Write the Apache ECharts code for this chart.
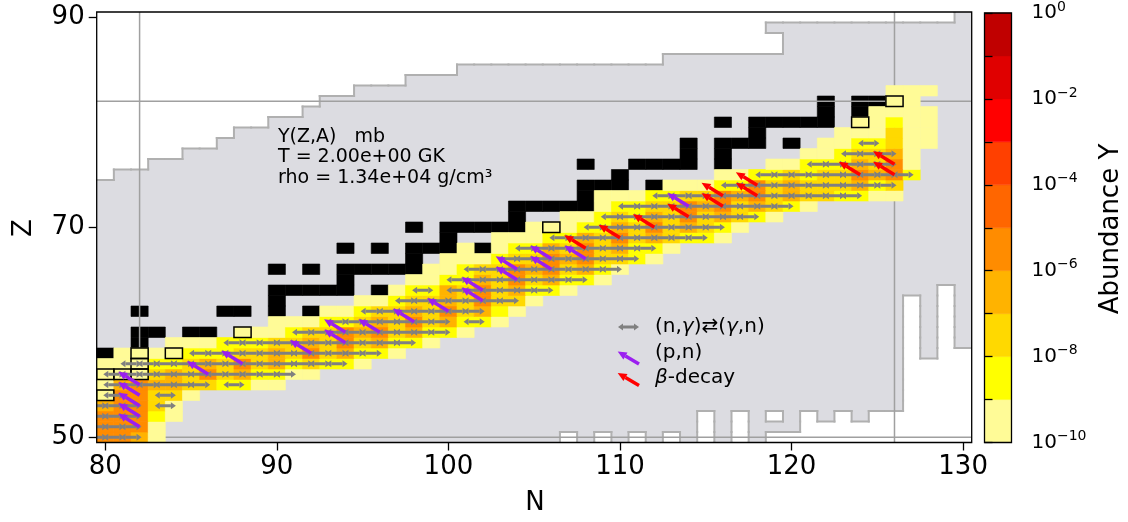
<!DOCTYPE html>
<html>
<head>
<meta charset="utf-8">
<script src="https://cdn.jsdelivr.net/npm/echarts@6.0.0/dist/echarts.min.js"></script>
<style>
html,body{margin:0;padding:0;background:#ffffff;}
#chart{width:1128px;height:522px;}
</style>
</head>
<body>
<div id="chart"></div>
<script>
// ---------------- data ----------------
const nTicks = [80, 90, 100, 110, 120, 130];
const zTicks = [50, 70, 90];
const magicN = [82, 126];
const magicZ = [50, 82];
const cbExponents = [-10, -9, -8, -7, -6, -5, -4, -3, -2, -1];
const cbColors = ['#fffb97', '#ffff00', '#ffd900', '#ffb300', '#ff8c00', '#ff6600', '#ff4000', '#ff0000', '#e00000', '#c00000'];
const cbLabelExps = [-10, -8, -6, -4, -2, 0];

// network nuclei: [N, Zmin, Zmax] per neutron number
const netColumns = [
  [78,45,74],[79,45,74],[80,45,74],[81,45,75],[82,45,75],[83,45,76],[84,45,76],[85,45,77],[86,45,77],
  [87,45,78],[88,45,79],[89,45,79],[90,45,80],[91,45,80],[92,45,81],[93,45,82],[94,45,82],[95,45,83],
  [96,45,83],[97,45,83],[98,45,84],[99,45,84],[100,45,84],[101,45,85],[102,45,85],[103,45,85],[104,45,85],
  [105,45,85],[106,45,85],[107,51,85],[108,45,85],[109,51,85],[110,45,85],[111,51,85],[112,45,85],
  [113,51,86],[114,45,86],[115,53,86],[116,45,86],[117,53,86],[118,45,86],[119,51,86],[120,51,89],
  [121,53,89],[122,52,89],[123,53,89],[124,52,89],[125,53,89],[126,53,89],[127,64,89],[128,58,89],
  [129,65,89],[130,59,95],[131,59,95],[132,59,95]
];
const netExtraCells = [[119, 89]];
const netHoleCells = [[119, 52]];

// stable nuclei [N, Z]
const stableNuclei = [
  [80,54],[80,56],[81,56],[82,56],[82,57],[80,58],[82,58],[84,58],[82,59],
  [82,60],[83,60],[85,60],[86,60],[88,60],[82,62],[87,62],[88,62],[90,62],[92,62],[90,63],
  [90,64],[91,64],[92,64],[93,64],[94,64],[96,64],[94,65],
  [90,66],[92,66],[94,66],[95,66],[96,66],[97,66],[98,66],[98,67],
  [94,68],[96,68],[98,68],[99,68],[100,68],[102,68],[100,69],
  [98,70],[100,70],[101,70],[102,70],[103,70],[104,70],[106,70],[104,71],
  [104,72],[105,72],[106,72],[107,72],[108,72],[108,73],
  [108,74],[109,74],[110,74],[112,74],[110,75],
  [108,76],[111,76],[112,76],[113,76],[114,76],[116,76],[114,77],[116,77],
  [114,78],[116,78],[117,78],[118,78],[120,78],[118,79],
  [116,80],[118,80],[119,80],[120,80],[121,80],[122,80],[124,80],[122,81],[124,81],
  [122,82],[124,82],[125,82],[126,82]
];

// abundance rows: [Z, first N, log10(Y) per successive N]
const abundanceRows = [
  [50, 80, [-5.5,-5.5,-6.5,-9.5]],
  [51, 80, [-5.5,-5.5,-5.5,-9.5]],
  [52, 80, [-5.5,-5.5,-5.5,-8.5,-9.5]],
  [53, 80, [-6.5,-5.5,-5.5,-7.5,-9.5]],
  [54, 80, [-9.5,-5.5,-5.5,-7.5,-7.5,-9.5]],
  [55, 80, [-9.5,-6.5,-5.5,-6.5,-6.5,-7.5,-7.5,-8.5,-8.5,-9.5,-9.5]],
  [56, 80, [-9.5,-9.5,-9.5,-7.5,-6.5,-7.5,-5.5,-7.5,-6.5,-8.5,-8.5,-9.5,-9.5]],
  [57, 80, [-9.5,-9.5,-9.5,-8.5,-8.5,-7.5,-6.5,-7.5,-5.5,-7.5,-6.5,-8.5,-7.5,-8.5,-8.5,-9.5]],
  [58, 81, [-9.5,-9.5,-9.5,-9.5,-8.5,-8.5,-8.5,-7.5,-7.5,-6.5,-7.5,-5.5,-7.5,-6.5,-8.5,-8.5,-9.5]],
  [59, 84, [-9.5,-9.5,-9.5,-8.5,-8.5,-8.5,-7.5,-7.5,-6.5,-7.5,-5.5,-7.5,-6.5,-8.5,-8.5,-9.5]],
  [60, 88, [-9.5,-9.5,-9.5,-8.5,-7.5,-7.5,-5.5,-6.5,-5.5,-7.5,-6.5,-8.5,-8.5,-9.5]],
  [61, 90, [-9.5,-9.5,-9.5,-8.5,-8.5,-7.5,-6.5,-7.5,-5.5,-7.5,-6.5,-8.5,-8.5,-9.5]],
  [62, 93, [-9.5,-9.5,-8.5,-7.5,-7.5,-6.5,-7.5,-5.5,-7.5,-6.5,-8.5,-9.5]],
  [63, 95, [-9.5,-9.5,-8.5,-7.5,-7.5,-6.5,-7.5,-5.5,-7.5,-7.5,-9.5]],
  [64, 97, [-9.5,-8.5,-8.5,-6.5,-7.5,-5.5,-7.5,-6.5,-8.5,-8.5,-9.5]],
  [65, 98, [-9.5,-9.5,-8.5,-8.5,-6.5,-7.5,-5.5,-7.5,-6.5,-8.5,-8.5,-9.5]],
  [66, 99, [-9.5,-9.5,-8.5,-7.5,-7.5,-5.5,-6.5,-5.5,-7.5,-6.5,-8.5,-9.5]],
  [67, 100, [-9.5,-9.5,-9.5,-8.5,-7.5,-7.5,-5.5,-6.5,-5.5,-7.5,-7.5,-8.5,-9.5]],
  [68, 101, [-9.5]],
  [68, 103, [-9.5,-8.5,-8.5,-6.5,-7.5,-5.5,-7.5,-6.5,-8.5,-8.5,-9.5]],
  [69, 103, [-9.5,-9.5,-9.5,-8.5,-8.5,-6.5,-7.5,-5.5,-7.5,-6.5,-7.5,-8.5,-8.5,-9.5]],
  [70, 105, [-9.5,-9.5,-9.5,-8.5,-8.5,-6.5,-7.5,-5.5,-7.5,-6.5,-7.5,-8.5,-9.5]],
  [71, 107, [-9.5,-9.5,-8.5,-7.5,-8.5,-6.5,-7.5,-5.5,-7.5,-6.5,-7.5,-8.5,-9.5]],
  [72, 109, [-9.5,-8.5,-8.5,-7.5,-7.5,-5.5,-6.5,-5.5,-7.5,-6.5,-7.5,-8.5,-9.5]],
  [73, 109, [-9.5,-9.5,-9.5,-8.5,-8.5,-7.5,-7.5,-5.5,-6.5,-5.5,-7.5,-6.5,-7.5,-7.5,-8.5,-8.5,-9.5,-9.5]],
  [74, 113, [-9.5,-9.5,-9.5,-8.5,-8.5,-5.5,-7.5,-6.5,-7.5,-7.5,-7.5,-6.5,-8.5,-7.5]],
  [75, 116, [-9.5,-9.5,-8.5,-8.5,-7.5,-8.5,-7.5,-7.5,-5.5,-6.5,-5.5,-8.5]],
  [76, 119, [-9.5,-9.5,-8.5,-8.5,-8.5,-6.5,-7.5,-5.5,-9.5]],
  [77, 121, [-9.5,-9.5,-8.5,-7.5,-7.5,-6.5,-9.5]],
  [78, 122, [-9.5,-9.5,-8.5,-8.5,-7.5,-9.5,-9.5]],
  [79, 123, [-9.5,-9.5,-9.5,-7.5,-9.5,-9.5]],
  [80, 124, [-9.5,-9.5,-8.5,-9.5,-9.5]],
  [81, 125, [-9.5,-9.5,-9.5,-9.5]],
  [82, 126, [-9.5,-9.5]],
  [83, 126, [-9.5,-9.5,-9.5]]
];

// (n,g)<->(g,n) flow runs: [Z, N from, N to]
const ngRuns = [
  [50,79,82],[51,79,82],[52,79,82],[53,79,82],[53,83,84],[54,80,81],[54,83,84],[55,80,86],[55,87,88],
  [56,80,91],[57,81,94],[58,85,96],[59,87,98],[60,91,100],[61,93,100],[61,101,102],[62,95,102],
  [63,97,104],[64,98,99],[64,100,106],[65,100,108],[66,101,110],[67,103,111],[68,104,112],
  [69,106,115],[70,108,116],[71,109,118],[72,110,120],[73,112,124],[74,116,126],[75,118,127],
  [76,121,126],[77,123,126],[78,124,125]
];
// (p,n) flows, start nucleus [N, Z]
const pnArrows = [
  [82,51],[82,52],[82,53],[82,54],[82,55],[86,56],[88,57],[92,58],[94,59],[94,60],[96,60],[98,61],
  [100,62],[102,63],[102,64],[104,65],[104,66],[106,66],[106,67],[108,67],[114,72]
];
// beta-decay flows, start nucleus [N, Z]
const betaArrows = [
  [108,68],[110,69],[112,70],[114,71],[116,72],[116,73],[118,73],[118,74],[124,75],[126,75],[126,76]
];

const infoLines = ['Y(Z,A)   mb', 'T = 2.00e+00 GK', 'rho = 1.34e+04 g/cm\u00b3'];

// ---------------- helpers ----------------
const FONT = 'DejaVu Sans';
const NET_FILL = '#dcdce1';
const NET_EDGE = '#b0b0b0';
const MAGIC = '#a0a0a0';
const NG_COLOR = '#808080';
const PN_COLOR = '#9b1ff0';
const BETA_COLOR = '#ff0000';

function levelColor(ly) {
  let i = Math.floor(ly) + 10;
  if (i < 0) i = 0; if (i > 9) i = 9;
  return cbColors[i];
}
function cellShape(api, n, z) {
  const p0 = api.coord([n - 0.5, z + 0.5]);
  const p1 = api.coord([n + 0.5, z - 0.5]);
  return {x: p0[0], y: p0[1], width: p1[0] - p0[0], height: p1[1] - p0[1]};
}
function tri(tip, base, ux, uy, hw) {
  const nx = -uy, ny = ux;
  return {type: 'polygon', shape: {points: [tip, [base[0] + nx * hw / 2, base[1] + ny * hw / 2], [base[0] - nx * hw / 2, base[1] - ny * hw / 2]]}};
}
function arrowEls(x0, y0, x1, y1, color, lw, headL, headW, over, both, zz) {
  const dx = x1 - x0, dy = y1 - y0, L = Math.hypot(dx, dy), ux = dx / L, uy = dy / L;
  const tip = [x1 + ux * over, y1 + uy * over];
  const base = [tip[0] - ux * headL, tip[1] - uy * headL];
  let start = [x0, y0];
  const els = [];
  if (both) {
    const tip0 = [x0 - ux * over, y0 - uy * over];
    const base0 = [tip0[0] + ux * headL, tip0[1] + uy * headL];
    const t0 = tri(tip0, base0, -ux, -uy, headW); t0.style = {fill: color}; els.push(t0);
    start = base0;
  }
  els.push({type: 'line', shape: {x1: start[0], y1: start[1], x2: base[0], y2: base[1]}, style: {stroke: color, lineWidth: lw}});
  const t1 = tri(tip, base, ux, uy, headW); t1.style = {fill: color}; els.push(t1);
  if (zz !== undefined) els.forEach(e => { e.z = zz; });
  return els;
}
function isInsideNet(n, z) {
  if (netHoleCells.some(c => c[0] === n && c[1] === z)) return false;
  if (netExtraCells.some(c => c[0] === n && c[1] === z)) return true;
  const col = netColumns.find(c => c[0] === n);
  if (!col) return true;
  return z >= col[1] && z <= col[2];
}

// derived data
const coloredCells = [];
abundanceRows.forEach(([z, n0, vals]) => vals.forEach((v, i) => coloredCells.push([n0 + i, z, v])));
const coloredKey = new Set(coloredCells.map(c => c[0] + ',' + c[1]));
const blackCells = stableNuclei.filter(s => !coloredKey.has(s[0] + ',' + s[1]));
const outlinedCells = stableNuclei.filter(s => coloredKey.has(s[0] + ',' + s[1]));
const magicLines = magicN.map(n => [0, n]).concat(magicZ.map(z => [1, z]));

const chart = echarts.init(document.getElementById('chart'), null, {renderer: 'canvas'});

const legendEls = []
  .concat(arrowEls(620, 327, 637, 327, NG_COLOR, 3, 5, 7, 2, true, 30))
  .concat(arrowEls(639, 364, 622, 354, PN_COLOR, 3.5, 9, 8, 5, false, 30))
  .concat(arrowEls(639, 385.5, 622, 375.5, BETA_COLOR, 3.5, 9, 8, 5, false, 30));

const option = {
  animation: false,
  backgroundColor: '#ffffff',
  grid: [
    {left: 96.7, top: 12, width: 875, height: 430.5, show: false},
    {left: 984.5, top: 12, width: 27, height: 430.5, show: false}
  ],
  xAxis: [
    {gridIndex: 0, type: 'value', min: 79.5, max: 130.5, z: 10,
     axisLine: {show: false}, splitLine: {show: false},
     axisTick: {show: true, customValues: nTicks, length: 8, lineStyle: {color: '#000', width: 1.3}},
     axisLabel: {customValues: nTicks, fontSize: 26, color: '#000', fontFamily: FONT, margin: 12}},
    {gridIndex: 1, type: 'value', min: 0, max: 1, show: false}
  ],
  yAxis: [
    {gridIndex: 0, type: 'value', min: 49.5, max: 90.5, z: 10,
     axisLine: {show: false}, splitLine: {show: false},
     axisTick: {show: true, customValues: zTicks, length: 8, lineStyle: {color: '#000', width: 1.3}},
     axisLabel: {customValues: zTicks, fontSize: 26, color: '#000', fontFamily: FONT, margin: 12}},
    {gridIndex: 1, type: 'value', min: -10, max: 0, interval: 1, position: 'right', z: 10,
     axisLine: {show: false}, splitLine: {show: false},
     axisTick: {show: true, length: 8, lineStyle: {color: '#000', width: 1.3}},
     axisLabel: {customValues: cbLabelExps, margin: 20, color: '#000',
       formatter: v => '{b|10}{s|' + (v === 0 ? '0' : '\u2212' + (-v)) + '}',
       rich: {b: {fontSize: 20, fontFamily: FONT, color: '#000', lineHeight: 26},
              s: {fontSize: 14, fontFamily: FONT, color: '#000', verticalAlign: 'top', lineHeight: 14}}}}
  ],
  series: [
    { // network region
      type: 'custom', xAxisIndex: 0, yAxisIndex: 0, clip: true, z: 1, silent: true,
      data: [[79.5, 49.5]],
      renderItem: (params, api) => {
        const children = [];
        const top = [], bottom = [];
        netColumns.forEach(([n, zmin, zmax]) => {
          top.push(api.coord([n - 0.5, zmax + 0.5]), api.coord([n + 0.5, zmax + 0.5]));
          bottom.push(api.coord([n - 0.5, zmin - 0.5]), api.coord([n + 0.5, zmin - 0.5]));
        });
        children.push({type: 'polygon', shape: {points: top.concat(bottom.reverse())}, style: {fill: NET_FILL}});
        netExtraCells.forEach(([n, z]) => children.push({type: 'rect', shape: cellShape(api, n, z), style: {fill: NET_FILL, stroke: NET_FILL, lineWidth: 0.8}}));
        netHoleCells.forEach(([n, z]) => children.push({type: 'rect', shape: cellShape(api, n, z), style: {fill: '#ffffff'}}));
        const seg = (a, b) => {
          const p = api.coord(a), q = api.coord(b);
          children.push({type: 'line', shape: {x1: p[0], y1: p[1], x2: q[0], y2: q[1]}, style: {stroke: NET_EDGE, lineWidth: 2, lineCap: 'square'}});
        };
        for (let n = 78; n <= 132; n++) {
          for (let z = 44; z <= 96; z++) {
            if (!isInsideNet(n, z)) continue;
            if (!isInsideNet(n, z + 1)) seg([n - 0.5, z + 0.5], [n + 0.5, z + 0.5]);
            if (!isInsideNet(n, z - 1)) seg([n - 0.5, z - 0.5], [n + 0.5, z - 0.5]);
            if (!isInsideNet(n - 1, z)) seg([n - 0.5, z - 0.5], [n - 0.5, z + 0.5]);
            if (!isInsideNet(n + 1, z)) seg([n + 0.5, z - 0.5], [n + 0.5, z + 0.5]);
          }
        }
        return {type: 'group', children};
      }
    },
    { // stable nuclei without abundance
      type: 'custom', xAxisIndex: 0, yAxisIndex: 0, clip: true, z: 2, silent: true,
      data: blackCells,
      renderItem: (params, api) => ({type: 'rect', shape: cellShape(api, api.value(0), api.value(1)),
        style: {fill: '#000', stroke: '#000', lineWidth: 0.6}})
    },
    { // magic numbers
      type: 'custom', xAxisIndex: 0, yAxisIndex: 0, clip: true, z: 3, silent: true,
      data: magicLines,
      renderItem: (params, api) => {
        const kind = api.value(0), v = api.value(1);
        const a = kind === 0 ? api.coord([v, 49.5]) : api.coord([79.5, v]);
        const b = kind === 0 ? api.coord([v, 90.5]) : api.coord([130.5, v]);
        return {type: 'line', shape: {x1: a[0], y1: a[1], x2: b[0], y2: b[1]}, style: {stroke: MAGIC, lineWidth: 1.5}};
      }
    },
    { // abundance cells
      type: 'custom', xAxisIndex: 0, yAxisIndex: 0, clip: true, z: 4, silent: true,
      data: coloredCells,
      renderItem: (params, api) => {
        const c = levelColor(api.value(2));
        return {type: 'rect', shape: cellShape(api, api.value(0), api.value(1)), style: {fill: c, stroke: c, lineWidth: 0.6}};
      }
    },
    { // stable nuclei with abundance: outline
      type: 'custom', xAxisIndex: 0, yAxisIndex: 0, clip: true, z: 5, silent: true,
      data: outlinedCells,
      renderItem: (params, api) => ({type: 'rect', shape: cellShape(api, api.value(0), api.value(1)),
        style: {fill: null, stroke: '#000', lineWidth: 1.5}})
    },
    { // (n,g)<->(g,n)
      type: 'custom', xAxisIndex: 0, yAxisIndex: 0, clip: true, z: 6, silent: true,
      data: ngRuns,
      renderItem: (params, api) => {
        const z = api.value(0), n0 = api.value(1), n1 = api.value(2);
        const children = [];
        for (let n = n0; n < n1; n++) {
          const a = api.coord([n, z]), b = api.coord([n + 1, z]);
          arrowEls(a[0], a[1], b[0], b[1], NG_COLOR, 3, 5, 7, 2, true).forEach(e => children.push(e));
        }
        return {type: 'group', children};
      }
    },
    { // (p,n)
      type: 'custom', xAxisIndex: 0, yAxisIndex: 0, clip: true, z: 7, silent: true,
      data: pnArrows,
      renderItem: (params, api) => {
        const n = api.value(0), z = api.value(1);
        const a = api.coord([n, z]), b = api.coord([n - 1, z + 1]);
        return {type: 'group', children: arrowEls(a[0], a[1], b[0], b[1], PN_COLOR, 3.5, 9, 8, 5, false)};
      }
    },
    { // beta decay
      type: 'custom', xAxisIndex: 0, yAxisIndex: 0, clip: true, z: 8, silent: true,
      data: betaArrows,
      renderItem: (params, api) => {
        const n = api.value(0), z = api.value(1);
        const a = api.coord([n, z]), b = api.coord([n - 1, z + 1]);
        return {type: 'group', children: arrowEls(a[0], a[1], b[0], b[1], BETA_COLOR, 3.5, 9, 8, 5, false)};
      }
    },
    { // plot frame
      type: 'custom', xAxisIndex: 0, yAxisIndex: 0, clip: false, z: 9, silent: true,
      data: [[79.5, 49.5]],
      renderItem: (params, api) => {
        const p = api.coord([79.5, 90.5]), q = api.coord([130.5, 49.5]);
        return {type: 'rect', shape: {x: p[0], y: p[1], width: q[0] - p[0], height: q[1] - p[1]}, style: {fill: null, stroke: '#000', lineWidth: 1.3}};
      }
    },
    { // colorbar bands
      type: 'custom', xAxisIndex: 1, yAxisIndex: 1, clip: false, z: 4, silent: true,
      data: cbExponents.map((e, i) => [e, i]),
      renderItem: (params, api) => {
        const e = api.value(0), i = api.value(1);
        const p = api.coord([0, e + 1]), q = api.coord([1, e]);
        return {type: 'rect', shape: {x: p[0], y: p[1], width: q[0] - p[0], height: q[1] - p[1]}, style: {fill: cbColors[i], stroke: cbColors[i], lineWidth: 0.5}};
      }
    },
    { // colorbar frame
      type: 'custom', xAxisIndex: 1, yAxisIndex: 1, clip: false, z: 9, silent: true,
      data: [[0, 0]],
      renderItem: (params, api) => {
        const p = api.coord([0, 0]), q = api.coord([1, -10]);
        return {type: 'rect', shape: {x: p[0], y: p[1], width: q[0] - p[0], height: q[1] - p[1]}, style: {fill: null, stroke: '#000', lineWidth: 1.3}};
      }
    }
  ],
  graphic: [
    {type: 'text', x: 535, y: 503, z: 20, style: {text: 'N', font: '26px "DejaVu Sans"', fill: '#000', textAlign: 'center', textVerticalAlign: 'middle'}},
    {type: 'text', x: 24, y: 228, z: 20, rotation: Math.PI / 2, style: {text: 'Z', font: '26px "DejaVu Sans"', fill: '#000', textAlign: 'center', textVerticalAlign: 'middle'}},
    {type: 'text', x: 1111, y: 229, z: 20, rotation: Math.PI / 2, style: {text: 'Abundance Y', font: '26px "DejaVu Sans"', fill: '#000', textAlign: 'center', textVerticalAlign: 'middle'}},
    {type: 'text', x: 278, y: 137, z: 20, style: {text: infoLines[0], font: '19px "DejaVu Sans"', fill: '#000', textVerticalAlign: 'middle'}},
    {type: 'text', x: 278, y: 157.5, z: 20, style: {text: infoLines[1], font: '19px "DejaVu Sans"', fill: '#000', textVerticalAlign: 'middle'}},
    {type: 'text', x: 278, y: 178, z: 20, style: {text: infoLines[2], font: '19px "DejaVu Sans"', fill: '#000', textVerticalAlign: 'middle'}},
    {type: 'group', z: 30, children: legendEls},
    {type: 'text', x: 655, y: 327, z: 20, style: {text: '(n,{i|\u03b3})\u21c4({i|\u03b3},n)', font: '20px "DejaVu Sans"', fill: '#000', textVerticalAlign: 'middle',
      rich: {i: {fontStyle: 'italic', fontSize: 20, fontFamily: FONT}}}},
    {type: 'text', x: 655, y: 352.5, z: 20, style: {text: '(p,n)', font: '20px "DejaVu Sans"', fill: '#000', textVerticalAlign: 'middle'}},
    {type: 'text', x: 655, y: 378, z: 20, style: {text: '{i|\u03b2}-decay', font: '20px "DejaVu Sans"', fill: '#000', textVerticalAlign: 'middle',
      rich: {i: {fontStyle: 'italic', fontSize: 20, fontFamily: FONT}}}}
  ]
};
chart.setOption(option);
</script>
</body>
</html>
